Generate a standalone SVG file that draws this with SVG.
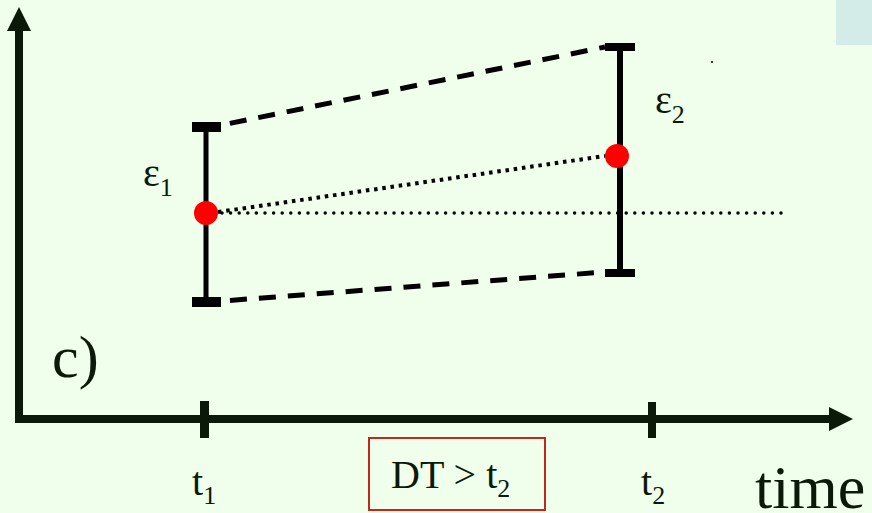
<svg xmlns="http://www.w3.org/2000/svg" width="872" height="513" viewBox="0 0 872 513">
  <style>
    .ink { fill: #0B1A08; }
    .axis { stroke: #0B1A08; stroke-width: 8; fill: none; stroke-linejoin: miter; }
    .bar { stroke: #000; fill: none; }
    .cap { fill: #000; }
    .dash { stroke: #000; stroke-width: 5; stroke-dasharray: 17 12; fill: none; }
    .dotsq { stroke: #000; stroke-width: 4; stroke-dasharray: 3.5 4.8; fill: none; }
    .dotrd { stroke: #000; stroke-width: 3.5; stroke-dasharray: 0 8.6; stroke-linecap: round; fill: none; }
    .pt { fill: #FF0000; }
    text { font-family: "Liberation Serif", "Times New Roman", serif; fill: #0B1A08; }
    .lbl { font-size: 40px; }
    .sub { font-size: 26px; }
  </style>
  <rect x="0" y="0" width="872" height="513" fill="#EFFFEB"/>
  <rect x="836" y="0" width="36" height="45" fill="#D4ECE8"/>

  <g id="axes">
    <path class="axis" d="M19,30 V419 H830"/>
    <polygon class="ink" points="7,31 19,7 31,31"/>
    <polygon class="ink" points="829,407 853,419 829,431"/>
    <rect class="ink" x="200" y="401" width="9" height="37"/>
    <rect class="ink" x="648" y="402" width="8" height="36"/>
  </g>

  <g id="connectors">
    <line class="dash" x1="222" y1="125" x2="605" y2="47" stroke-dashoffset="-8"/>
    <line class="dash" x1="222" y1="301" x2="605" y2="272" stroke-dashoffset="-8"/>
    <line class="dotsq" x1="218" y1="212" x2="605" y2="156"/>
    <line class="dotrd" x1="222" y1="213" x2="782" y2="213"/>
  </g>

  <g id="errorbar1">
    <line class="bar" x1="206" y1="127" x2="206" y2="302" stroke-width="5"/>
    <rect class="cap" x="192" y="122" width="29" height="10"/>
    <rect class="cap" x="192" y="297" width="29" height="10"/>
    <circle class="pt" cx="206" cy="213" r="12"/>
  </g>

  <g id="errorbar2">
    <line class="bar" x1="620" y1="47" x2="620" y2="273" stroke-width="6"/>
    <rect class="cap" x="605" y="43" width="30" height="8"/>
    <rect class="cap" x="605" y="269" width="30" height="8"/>
    <circle class="pt" cx="617" cy="156" r="12"/>
  </g>

  <circle cx="712" cy="62" r="1" fill="#000"/>

  <g id="label-eps1">
    <text class="lbl" x="143" y="186">ε<tspan class="sub" dy="10">1</tspan></text>
  </g>
  <g id="label-eps2">
    <text class="lbl" x="655" y="113">ε<tspan class="sub" dy="10">2</tspan></text>
  </g>
  <g id="label-c">
    <text x="52" y="377" font-size="60">c)</text>
  </g>
  <g id="label-t1">
    <text class="lbl" x="192" y="495">t<tspan class="sub" dy="9">1</tspan></text>
  </g>
  <g id="label-t2">
    <text class="lbl" x="641" y="495">t<tspan class="sub" dy="9">2</tspan></text>
  </g>
  <g id="label-DT">
    <rect x="369" y="438" width="176" height="72" fill="none" stroke="#C0281C" stroke-width="2"/>
    <text class="lbl" x="391" y="488">DT &gt; t<tspan class="sub" dy="9">2</tspan></text>
  </g>
  <g id="label-time">
    <text x="755" y="508" font-size="62">time</text>
  </g>
</svg>
